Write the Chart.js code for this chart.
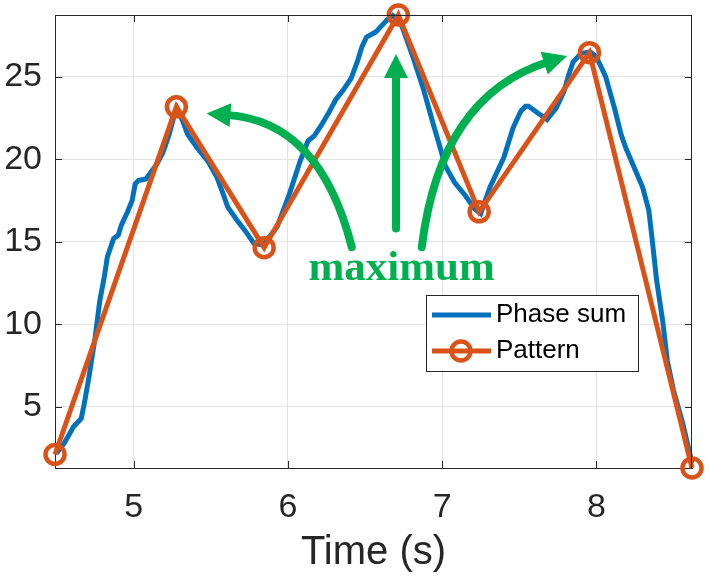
<!DOCTYPE html>
<html>
<head>
<meta charset="utf-8">
<script src="https://cdn.jsdelivr.net/npm/chart.js@4.4.1/dist/chart.umd.min.js"></script>
<style>
    html, body { margin: 0; padding: 0; background: #fff; }
</style>
</head>
<body>
<canvas id="grafico" width="710" height="584"></canvas>
<script>
// datos
const phaseTime = [4.50, 4.55, 4.61, 4.66, 4.68, 4.71, 4.75, 4.78, 4.81, 4.83, 4.87, 4.90, 4.92, 4.96, 4.99,
    5.01, 5.03, 5.08, 5.15, 5.19, 5.23, 5.27, 5.28, 5.31, 5.35, 5.41, 5.48, 5.54, 5.58, 5.61, 5.67, 5.72,
    5.78, 5.84, 5.93, 6.01, 6.08, 6.13, 6.17, 6.22, 6.27, 6.31, 6.36, 6.41, 6.45, 6.48, 6.51, 6.57, 6.61,
    6.65, 6.68, 6.73, 6.81, 6.88, 6.94, 6.99, 7.02, 7.08, 7.15, 7.21, 7.25, 7.31, 7.40, 7.46, 7.51, 7.54,
    7.56, 7.62, 7.68, 7.74, 7.79, 7.82, 7.85, 7.90, 7.96, 8.00, 8.06, 8.12, 8.16, 8.19, 8.24, 8.30, 8.34,
    8.36, 8.39, 8.43, 8.46, 8.50, 8.56, 8.62]
const phaseSum = [2.2, 2.8, 3.8, 4.3, 5.2, 6.8, 9.2, 11.4, 12.9, 14.1, 15.2, 15.4, 16.0, 16.8, 17.5,
    18.5, 18.7, 18.8, 19.7, 20.4, 21.5, 22.9, 23.1, 22.5, 21.5, 20.7, 19.9, 18.9, 17.9, 17.1, 16.3, 15.7,
    14.9, 14.8, 15.9, 17.9, 19.9, 21.1, 21.4, 22.1, 22.9, 23.6, 24.2, 24.9, 25.9, 26.8, 27.4, 27.7, 28.1,
    28.5, 28.7, 28.3, 26.2, 24.2, 22.2, 20.6, 19.6, 18.6, 17.8, 17.0, 16.7, 18.3, 20.1, 21.9, 22.9, 23.2,
    23.2, 22.8, 22.4, 23.1, 24.1, 25.1, 25.9, 26.4, 26.5, 26.2, 25.0, 23.0, 21.5, 20.7, 19.6, 18.3, 16.9,
    15.3, 12.7, 10.2, 7.8, 6.0, 4.0, 1.6]
const patternTime = [4.49, 5.277, 5.846, 6.716, 7.24, 7.955, 8.62]
const patternValue = [2.12, 23.17, 14.64, 28.73, 16.81, 26.45, 1.3]
const xTicks = [5, 6, 7, 8]
const yTicks = [5, 10, 15, 20, 25]

const azul = '#0072BD'
const naranja = '#D95319'
const verde = '#00B050'
const gris = '#262626'

// anotaciones en unidades de los ejes
const flechas = [
    { cola: [6.414, 14.67], ctrl: [6.208, 22.32], punta: [5.472, 22.76] },
    { cola: [6.701, 15.80], ctrl: null, punta: [6.701, 26.37] },
    { cola: [6.868, 14.67], ctrl: [6.987, 23.83], punta: [7.81, 26.25] }
]
const textoMax = { texto: 'maximum', pos: [6.737, 12.66] }

Chart.defaults.font.family = '"Liberation Sans", Arial, sans-serif'
Chart.defaults.color = gris

const todosX = phaseTime.concat(patternTime)
const todosY = phaseSum.concat(patternValue)

const marcoPlugin = {
    id: 'marco',
    afterDatasetsDraw(chart) {
        const ctx = chart.ctx
        const a = chart.chartArea
        const sx = chart.scales.x
        const sy = chart.scales.y
        ctx.save()

        // caja y marcas hacia dentro
        ctx.strokeStyle = gris
        ctx.lineWidth = 1
        ctx.beginPath()
        ctx.moveTo(a.left, a.top + 0.5); ctx.lineTo(a.right, a.top + 0.5)
        ctx.moveTo(a.right - 0.5, a.top); ctx.lineTo(a.right - 0.5, a.bottom)
        xTicks.forEach(v => {
            let px = Math.round(sx.getPixelForValue(v)) + 0.5
            ctx.moveTo(px, a.bottom); ctx.lineTo(px, a.bottom - 7)
            ctx.moveTo(px, a.top); ctx.lineTo(px, a.top + 7)
        })
        yTicks.forEach(v => {
            let py = Math.round(sy.getPixelForValue(v)) + 0.5
            ctx.moveTo(a.left, py); ctx.lineTo(a.left + 7, py)
            ctx.moveTo(a.right, py); ctx.lineTo(a.right - 7, py)
        })
        ctx.stroke()

        // flechas verdes
        ctx.strokeStyle = verde
        ctx.fillStyle = verde
        ctx.lineWidth = 8
        ctx.lineCap = 'round'
        flechas.forEach(f => {
            let p0 = [sx.getPixelForValue(f.cola[0]), sy.getPixelForValue(f.cola[1])]
            let t = [sx.getPixelForValue(f.punta[0]), sy.getPixelForValue(f.punta[1])]
            let c = f.ctrl ? [sx.getPixelForValue(f.ctrl[0]), sy.getPixelForValue(f.ctrl[1])]
                : [(p0[0] + t[0]) / 2, (p0[1] + t[1]) / 2]
            let dx = t[0] - c[0], dy = t[1] - c[1]
            let len = Math.hypot(dx, dy)
            dx /= len; dy /= len
            let largo = 24, ancho = 12
            let b = [t[0] - dx * largo, t[1] - dy * largo]
            ctx.beginPath()
            ctx.moveTo(p0[0], p0[1])
            ctx.quadraticCurveTo(c[0], c[1], b[0] + dx * 4, b[1] + dy * 4)
            ctx.stroke()
            ctx.beginPath()
            ctx.moveTo(t[0], t[1])
            ctx.lineTo(b[0] - dy * ancho, b[1] + dx * ancho)
            ctx.lineTo(b[0] + dy * ancho, b[1] - dx * ancho)
            ctx.closePath()
            ctx.fill()
        })
        ctx.font = 'bold 43px "Liberation Serif", "Times New Roman", serif'
        ctx.textAlign = 'center'
        ctx.textBaseline = 'alphabetic'
        ctx.fillText(textoMax.texto, sx.getPixelForValue(textoMax.pos[0]), sy.getPixelForValue(textoMax.pos[1]))

        // leyenda
        let lx = 426, ly = 295, lw = 212, lh = 76
        ctx.fillStyle = '#fff'
        ctx.fillRect(lx, ly, lw, lh)
        ctx.strokeStyle = gris
        ctx.lineWidth = 1
        ctx.strokeRect(lx + 0.5, ly + 0.5, lw, lh)
        let filas = [315, 351]
        chart.data.datasets.slice().sort((d1, d2) => d2.order - d1.order).forEach((ds, i) => {
            let y = filas[i]
            ctx.strokeStyle = ds.borderColor
            ctx.lineWidth = ds.borderWidth
            ctx.lineCap = 'butt'
            ctx.beginPath()
            ctx.moveTo(432, y); ctx.lineTo(491, y)
            ctx.stroke()
            if (ds.pointRadius > 0) {
                ctx.lineWidth = ds.pointBorderWidth
                ctx.beginPath()
                ctx.arc(461, y, ds.pointRadius, 0, Math.PI * 2)
                ctx.stroke()
            }
            ctx.fillStyle = '#000'
            ctx.font = '26px "Liberation Sans", Arial, sans-serif'
            ctx.textAlign = 'left'
            ctx.textBaseline = 'middle'
            ctx.fillText(ds.label, 496, y)
        })
        ctx.restore()
    }
}

const grafico = new Chart(document.getElementById('grafico'), {
    type: 'line',
    data: {
        datasets: [
            {
                label: 'Phase sum',
                data: phaseTime.map((t, i) => ({ x: t, y: phaseSum[i] })),
                borderColor: azul,
                borderWidth: 5,
                pointRadius: 0,
                tension: 0,
                clip: false,
                order: 2
            },
            {
                label: 'Pattern',
                data: patternTime.map((t, i) => ({ x: t, y: patternValue[i] })),
                borderColor: naranja,
                borderWidth: 5,
                pointRadius: 9.5,
                pointBorderWidth: 4.5,
                pointBorderColor: naranja,
                pointBackgroundColor: 'rgba(0,0,0,0)',
                tension: 0,
                clip: false,
                order: 1
            }
        ]
    },
    options: {
        responsive: false,
        animation: false,
        devicePixelRatio: 1,
        layout: { padding: { top: 15, right: 18, left: 0, bottom: 0 } },
        plugins: { legend: { display: false }, tooltip: { enabled: false } },
        scales: {
            x: {
                type: 'linear',
                min: Math.min(...todosX),
                max: Math.max(...todosX),
                afterBuildTicks: scale => { scale.ticks = xTicks.map(v => ({ value: v })) },
                afterFit: scale => { scale.height = 116; scale.paddingLeft = 0; scale.paddingRight = 0 },
                ticks: { font: { size: 34 }, color: gris, padding: 19, maxRotation: 0 },
                grid: { color: '#e3e3e3', drawTicks: false },
                border: { color: gris, width: 1 },
                title: {
                    display: true,
                    text: 'Time (s)',
                    color: gris,
                    font: { size: 40, lineHeight: 1.2 },
                    padding: { top: 0, bottom: 7 }
                }
            },
            y: {
                type: 'linear',
                min: Math.min(...todosY),
                max: Math.max(...todosY),
                afterBuildTicks: scale => { scale.ticks = yTicks.map(v => ({ value: v })) },
                afterFit: scale => { scale.width = 55; scale.paddingTop = 0; scale.paddingBottom = 0 },
                ticks: { font: { size: 34 }, color: gris, padding: 13 },
                grid: { color: '#e3e3e3', drawTicks: false },
                border: { color: gris, width: 1 }
            }
        }
    },
    plugins: [marcoPlugin]
})
</script>
</body>
</html>
